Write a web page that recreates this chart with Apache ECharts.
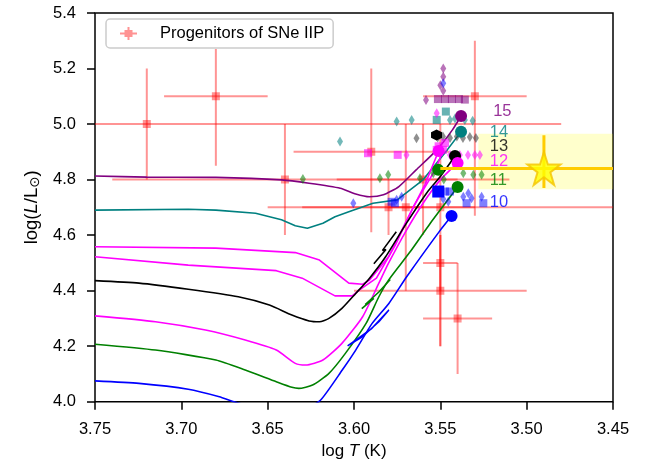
<!DOCTYPE html>
<html>
<head>
<meta charset="utf-8">
<script src="https://cdn.jsdelivr.net/npm/echarts@6/dist/echarts.min.js"></script>
<style>html,body{margin:0;padding:0;background:#fff;}#c{width:654px;height:469px;}</style>
</head>
<body>
<div id="c"></div>
<script>
// ---------------- DATA ----------------
const xTicks = [3.45, 3.50, 3.55, 3.60, 3.65, 3.70, 3.75];
const yTicks = [4.0, 4.2, 4.4, 4.6, 4.8, 5.0, 5.2, 5.4];
const progName = 'Progenitors of SNe IIP';
// progenitors: log T, log L, T error (both sides), L error up, L error down
const progT     = [3.72, 3.68, 3.64, 3.59, 3.53, 3.55, 3.58, 3.57, 3.56, 3.55, 3.55, 3.54];
const progL     = [5.00, 5.10, 4.80, 4.90, 5.10, 4.70, 4.70, 4.70, 4.80, 4.50, 4.40, 4.30];
const progTErr  = [0.24, 0.03, 0.10, 0.045, 0.03, 0.10, 0.05, 0.01, 0.05, 0.01, 0.05, 0.02];
const progLErrU = [0.20, 0.17, 0.20, 0.30, 0.20, 0.30, 0.10, 0.30, 0.20, 0.10, 0.20, 0.20];
const progLErrD = [0.20, 0.25, 0.20, 0.29, 0.43, 0.30, 0.10, 0.30, 0.20, 0.30, 0.20, 0.20];

// evolutionary tracks [log T, log L]
const track15 = [[3.750,4.813],[3.720,4.809],[3.680,4.808],[3.642,4.799],[3.626,4.787],[3.608,4.769],[3.599,4.748],[3.591,4.738],[3.583,4.745],[3.574,4.775],[3.564,4.835],[3.552,4.907],[3.543,4.979],[3.538,5.029]];
const track14 = [[3.750,4.690],[3.696,4.693],[3.680,4.690],[3.657,4.679],[3.642,4.655],[3.634,4.634],[3.627,4.625],[3.618,4.643],[3.611,4.666],[3.603,4.684],[3.589,4.715],[3.575,4.727],[3.560,4.799],[3.546,4.907],[3.538,4.972]];
const track12a = [[3.750,4.558],[3.680,4.553],[3.634,4.537],[3.620,4.510],[3.603,4.427],[3.595,4.423],[3.591,4.438],[3.580,4.522],[3.568,4.672],[3.559,4.781],[3.551,4.903]];
const track12b = [[3.750,4.522],[3.696,4.492],[3.645,4.472],[3.630,4.445],[3.611,4.381],[3.601,4.381],[3.597,4.402],[3.587,4.445],[3.576,4.565],[3.565,4.709],[3.553,4.835],[3.549,4.895]];
const track13 = [[3.750,4.436],[3.7245,4.427],[3.696,4.405],[3.667,4.378],[3.649,4.348],[3.636,4.312],[3.626,4.291],[3.620,4.288],[3.6145,4.300],[3.607,4.336],[3.599,4.390],[3.591,4.445],[3.5817,4.522],[3.5696,4.643],[3.558,4.751],[3.550,4.811],[3.5415,4.885]];
const hook13 = [[3.5885,4.497],[3.5815,4.548],[3.5835,4.545],[3.5755,4.612]];
const track12c = [[3.750,4.309],[3.715,4.288],[3.686,4.258],[3.663,4.222],[3.645,4.186],[3.634,4.138],[3.628,4.132],[3.618,4.150],[3.607,4.210],[3.595,4.306],[3.5856,4.427],[3.580,4.499],[3.5695,4.619],[3.560,4.715],[3.550,4.799],[3.540,4.860]];
const track11 = [[3.750,4.207],[3.715,4.186],[3.680,4.150],[3.663,4.114],[3.645,4.072],[3.636,4.052],[3.632,4.048],[3.624,4.060],[3.6145,4.102],[3.605,4.174],[3.593,4.282],[3.5856,4.378],[3.580,4.438],[3.5676,4.539],[3.556,4.641],[3.540,4.773]];
const hook11 = [[3.5955,4.335],[3.5885,4.372],[3.5935,4.350],[3.5856,4.395],[3.5790,4.440]];
const track10 = [[3.750,4.075],[3.7245,4.066],[3.696,4.045],[3.678,4.018],[3.669,3.999],[3.645,3.960],[3.628,3.975],[3.6193,4.006],[3.6068,4.114],[3.599,4.186],[3.5895,4.282],[3.5798,4.354],[3.5695,4.450],[3.550,4.618],[3.5435,4.669]];
const loop10 = [[3.6037,4.201],[3.5952,4.234],[3.5856,4.288],[3.5798,4.330],[3.5900,4.262],[3.5990,4.222],[3.6037,4.201]];

// model end points (circles)
const endPurple = [[3.538,5.029]];
const endTeal = [[3.538,4.972]];
const endBlack = [[3.5415,4.885]];
const endMagenta = [[3.540,4.860],[3.551,4.903]];
const endGreen = [[3.540,4.773],[3.5512,4.835]];
const endBlue = [[3.5435,4.669]];
const endBlueSq = [[3.5512,4.757]];
const endBlackHex = [[3.5522,4.961]];

// scattered model points
const diaPurple = [[3.5483,5.20],[3.5483,5.17],[3.5483,5.12],[3.5583,5.087],[3.5500,5.14]];
const sqPurple = [[3.5514,5.09],[3.5473,5.09],[3.5433,5.09],[3.5392,5.09],[3.5358,5.088]];
const diaTeal = [[3.5444,5.015],[3.5415,5.02],[3.5358,5.015],[3.5313,5.012],[3.6081,4.937],[3.5753,5.009],[3.5666,5.015]];
const sqTeal = [[3.5468,5.045],[3.5521,5.015]];
const diaBlack = [[3.5638,4.949],[3.5485,4.955],[3.5444,4.950],[3.5404,4.955],[3.5369,4.950],[3.5329,4.953],[3.5294,4.950],[3.5515,4.952]];
const diaMagenta = [[3.5521,5.039],[3.5696,4.889],[3.5444,4.889],[3.5387,4.889],[3.5340,4.889],[3.5300,4.889],[3.5271,4.889]];
const sqMagenta = [[3.5521,4.907],[3.5485,4.907],[3.5473,4.932],[3.5747,4.889],[3.5919,4.895],[3.5510,4.920]];
const diaGreen = [[3.6296,4.802],[3.585,4.805],[3.5802,4.817],[3.5618,4.805],[3.5541,4.823],[3.5367,4.823],[3.5309,4.817],[3.5261,4.817],[3.548,4.800]];
const diaBlue = [[3.6004,4.715],[3.5753,4.727],[3.5724,4.738],[3.5454,4.720],[3.5367,4.738],[3.5338,4.751],[3.5319,4.733],[3.5261,4.738],[3.5483,5.147],[3.5483,4.730]];
const sqBlue = [[3.5502,4.757],[3.5473,4.757],[3.5444,4.757],[3.5348,4.715],[3.5251,4.715],[3.5763,4.715],[3.5782,4.720]];

// mass labels
const massLabels = ['15','14','13','12','11','10'];
const massLabelT = [3.520, 3.522, 3.522, 3.522, 3.522, 3.522];
const massLabelL = [5.046, 4.969, 4.921, 4.865, 4.796, 4.717];

// the SN progenitor star
const starT = 3.49, starL = 4.84;
const starTErr = 0.06, starLErrU = 0.12, starLErrD = 0.07;
const bandT = [3.528, 3.45];
const bandL = [4.765, 4.965];

// ---------------- CHART ----------------
const FF = '"Liberation Sans", Arial, Helvetica, sans-serif';
const FS = 16.5;
const colPurple = '#800080', colTeal = '#008080', colMag = '#ff00ff', colBlack = '#000000', colGreen = '#008000', colBlue = '#0000ff';
const massColors = [colPurple, colTeal, colBlack, colMag, colGreen, colBlue];
const errRed = 'rgba(255,0,0,0.42)';

const progData = progT.map((t, i) => [t, progL[i], progTErr[i], progLErrU[i], progLErrD[i]]);

function errRender(color, lw, sq) {
  return function (params, api) {
    const t = api.value(0), l = api.value(1), te = api.value(2), lu = api.value(3), ld = api.value(4);
    const c = api.coord([t, l]);
    const a = api.coord([t + te, l]), b = api.coord([t - te, l]);
    const u = api.coord([t, l + lu]), d = api.coord([t, l - ld]);
    const ch = [
      {type: 'line', shape: {x1: a[0], y1: a[1], x2: b[0], y2: b[1]}, style: {stroke: color, lineWidth: lw}},
      {type: 'line', shape: {x1: u[0], y1: u[1], x2: d[0], y2: d[1]}, style: {stroke: color, lineWidth: lw}}
    ];
    if (sq) ch.push({type: 'rect', shape: {x: c[0] - sq / 2, y: c[1] - sq / 2, width: sq, height: sq}, style: {fill: color}});
    return {type: 'group', children: ch};
  };
}

function lineS(data, color, smooth, z) {
  return {type: 'line', data: data, showSymbol: false, symbol: 'none', smooth: smooth || false, clip: true,
    lineStyle: {color: color, width: 1.6}, z: z || 3, silent: true};
}
function scat(data, color, symbol, size, op, z) {
  return {type: 'scatter', data: data, symbol: symbol, symbolSize: size, clip: true,
    itemStyle: {color: color, opacity: op}, z: z || 4, silent: true};
}
const hexPath = 'path://M50,0 L93.3,25 L93.3,75 L50,100 L6.7,75 L6.7,25 Z';
const starPath = 'path://M50,0 L61.8,35.1 L98.9,35.1 L69,56.8 L80.3,91.9 L50,70.2 L19.7,91.9 L31,56.8 L1.1,35.1 L38.2,35.1 Z';

const chart = echarts.init(document.getElementById('c'), null, {renderer: 'canvas'});
const series = [
  // yellow band
  {type: 'custom', data: [[bandT[0], bandL[0], bandT[1], bandL[1]]], z: 1, silent: true, clip: true,
   renderItem: function (params, api) {
     const p0 = api.coord([api.value(0), api.value(3)]);
     const p1 = api.coord([api.value(2), api.value(1)]);
     return {type: 'rect', shape: {x: p0[0], y: p0[1], width: p1[0] - p0[0], height: p1[1] - p0[1]}, style: {fill: 'rgba(255,255,0,0.2)'}};
   }},
  // progenitors
  {type: 'custom', name: progName, data: progData, z: 2, clip: true, silent: true,
   itemStyle: {color: errRed}, renderItem: errRender(errRed, 2, 8)},
  lineS(track15, colPurple, 0.2), lineS(track14, colTeal, false),
  lineS(track12a, colMag, false), lineS(track12b, colMag, false),
  lineS(track13, colBlack, 0.2), lineS(hook13, colBlack, false),
  lineS(track12c, colMag, 0.2), lineS(track11, colGreen, 0.2), lineS(hook11, colGreen, false),
  lineS(track10, colBlue, 0.2), lineS(loop10, colBlue, false),
  scat(diaPurple, colPurple, 'diamond', [6, 10], 0.55), scat(sqPurple, colPurple, 'rect', 8, 0.55),
  scat(diaTeal, colTeal, 'diamond', [6, 10], 0.55), scat(sqTeal, colTeal, 'rect', 8, 0.6),
  scat(diaBlack, '#333333', 'diamond', [6, 10], 0.55),
  scat(diaMagenta, colMag, 'diamond', [6, 10], 0.55), scat(sqMagenta, colMag, 'rect', 8, 0.6),
  scat(diaGreen, colGreen, 'diamond', [6, 10], 0.55),
  scat(diaBlue, colBlue, 'diamond', [6, 10], 0.5), scat(sqBlue, colBlue, 'rect', 8, 0.5),
  scat(endPurple, colPurple, 'circle', 12, 1, 5), scat(endTeal, colTeal, 'circle', 12, 1, 5),
  scat(endBlack, colBlack, 'circle', 12, 1, 5), scat(endMagenta, colMag, 'circle', 12, 1, 5),
  scat(endGreen, colGreen, 'circle', 12, 1, 5), scat(endBlue, colBlue, 'circle', 12, 1, 5),
  scat(endBlueSq, colBlue, 'rect', 12, 1, 5), scat(endBlackHex, colBlack, hexPath, 11, 1, 5),
  // star error bars
  {type: 'custom', data: [[starT, starL, starTErr, starLErrU, starLErrD]], z: 6, clip: true, silent: true,
   renderItem: errRender('#ffcc00', 3, 0)},
  {type: 'scatter', data: [[starT, starL]], symbol: starPath, symbolSize: 33, z: 7, silent: true,
   itemStyle: {color: '#ffff00', borderColor: '#f5c400', borderWidth: 2}},
  // mass labels
  {type: 'scatter', data: massLabels.map((m, i) => ({value: [massLabelT[i], massLabelL[i]],
     label: {show: true, formatter: m, position: 'right', distance: 1, color: massColors[i], fontSize: FS, fontFamily: FF}})),
   symbolSize: 0.1, itemStyle: {color: 'rgba(0,0,0,0)'}, z: 8, silent: true}
];

chart.setOption({
  animation: false,
  backgroundColor: '#ffffff',
  grid: {left: 95, right: 41, top: 13, bottom: 67.3, show: true, borderColor: '#000', borderWidth: 1.5, backgroundColor: 'transparent'},
  legend: {
    data: [{name: progName, icon: 'path://M0,5.5H17V7.5H0Z M7.5,0H9.5V13H7.5Z M4.5,3H12.5V10H4.5Z', itemStyle: {color: 'rgba(255,40,40,0.5)'}}],
    left: 106, top: 19, padding: [6, 9, 6, 14], itemWidth: 17, itemHeight: 13,
    textStyle: {fontSize: FS, fontFamily: FF, color: '#000', padding: [0, 0, 0, 18]},
    borderColor: '#cccccc', borderWidth: 1.5, borderRadius: 4, backgroundColor: '#ffffff',
    selectedMode: false, z: 10
  },
  xAxis: {
    type: 'value', min: xTicks[0], max: xTicks[xTicks.length - 1], interval: 0.05, inverse: true,
    axisLine: {show: false}, splitLine: {show: false},
    axisTick: {show: true, length: 8, lineStyle: {color: '#000', width: 1.5}},
    axisLabel: {formatter: v => v.toFixed(2), fontSize: FS, fontFamily: FF, color: '#000', margin: 19},
    name: '{n|log }{i|T}{n| (K)}', nameLocation: 'middle', nameGap: 40,
    nameTextStyle: {rich: {n: {fontSize: 17, fontFamily: FF, color: '#000'}, i: {fontSize: 17, fontFamily: FF, fontStyle: 'italic', color: '#000'}}}
  },
  yAxis: {
    type: 'value', min: yTicks[0], max: yTicks[yTicks.length - 1], interval: 0.2,
    axisLine: {show: false}, splitLine: {show: false},
    axisTick: {show: true, length: 8, lineStyle: {color: '#000', width: 1.5}},
    axisLabel: {formatter: v => v.toFixed(1), fontSize: FS, fontFamily: FF, color: '#000', margin: 19},
    name: '{n|log(}{i|L}{n|/L}{s|⊙}{n|)}', nameLocation: 'middle', nameGap: 52,
    nameTextStyle: {rich: {
      n: {fontSize: 18.5, fontFamily: FF, color: '#000'},
      i: {fontSize: 18.5, fontFamily: FF, fontStyle: 'italic', color: '#000'},
      s: {fontSize: 13.5, fontFamily: '"DejaVu Sans", sans-serif', color: '#000', verticalAlign: 'bottom', padding: [7, 0, 0, 0]}
    }}
  },
  series: series
});
</script>
</body>
</html>
